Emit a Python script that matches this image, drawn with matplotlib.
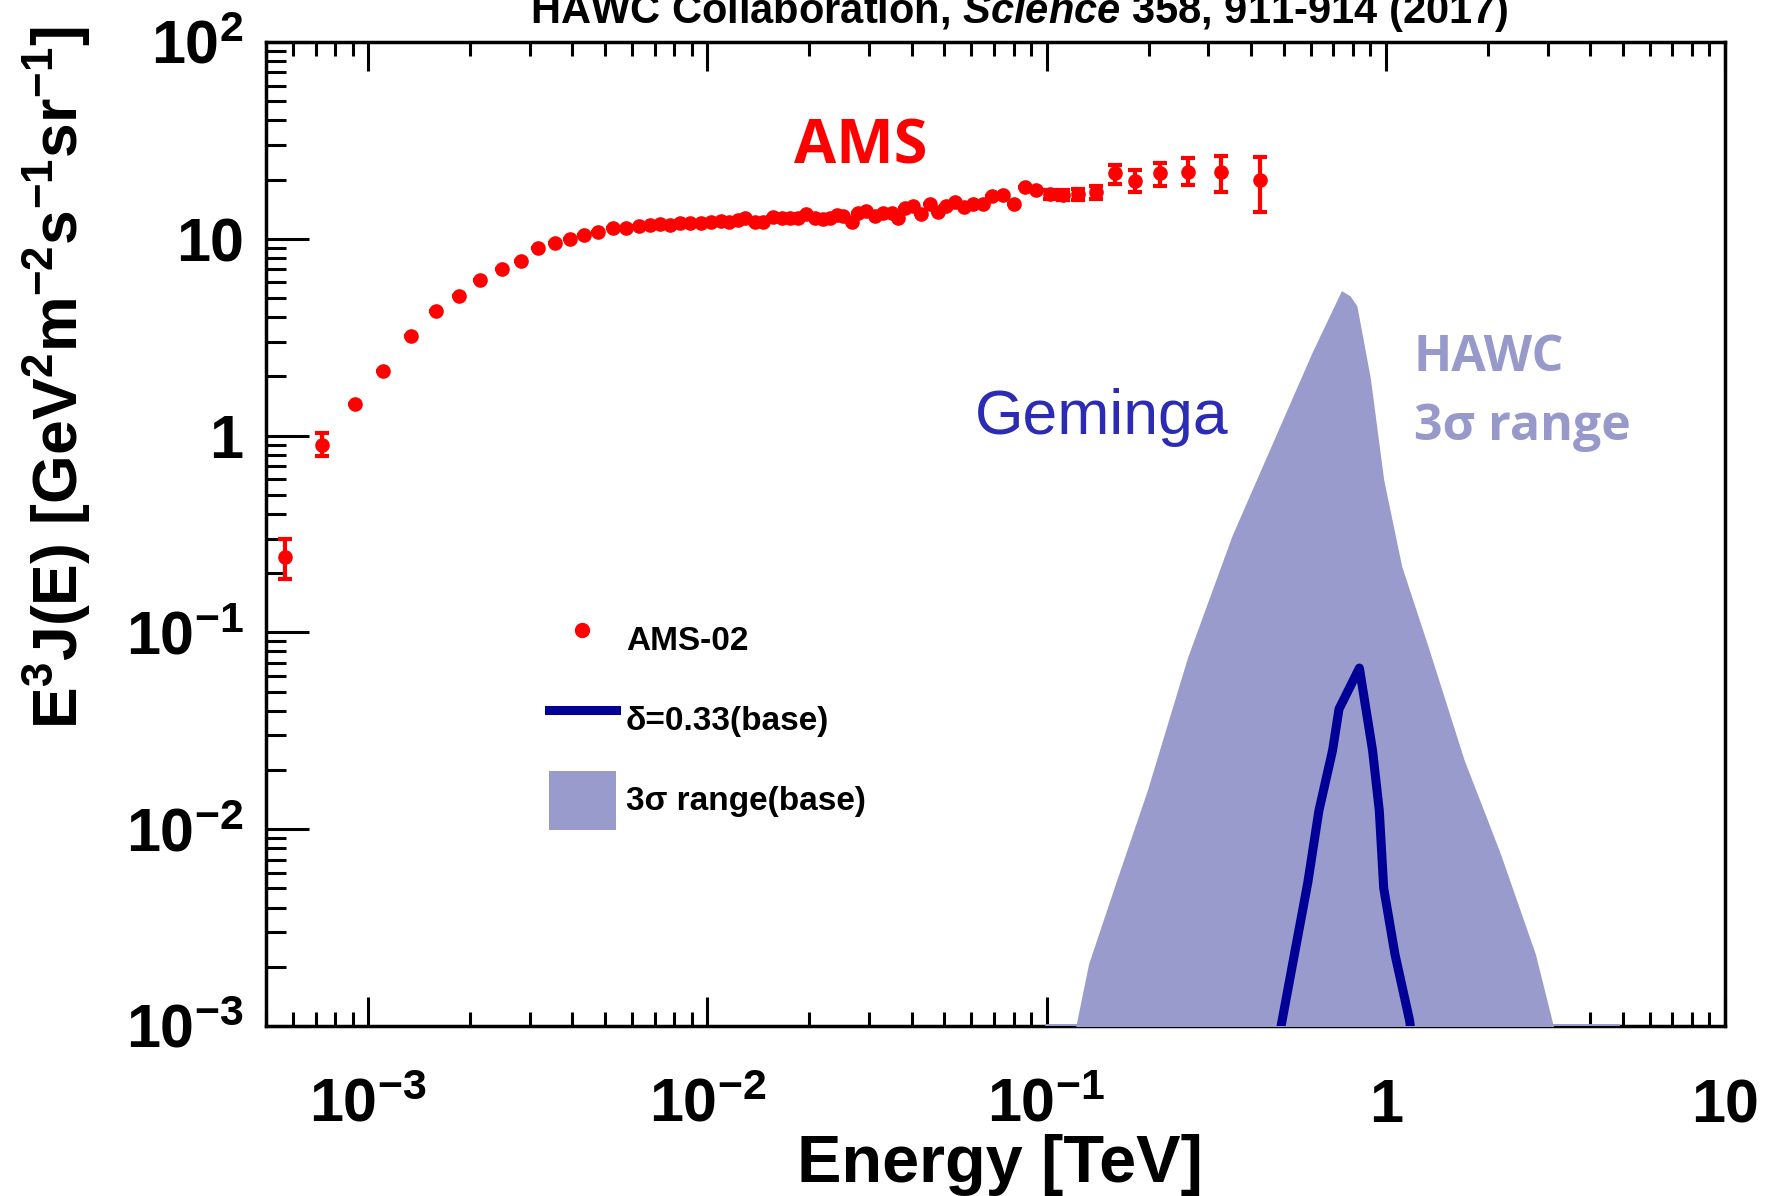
import matplotlib
matplotlib.use('Agg')
import matplotlib.pyplot as plt
from matplotlib.lines import Line2D
from matplotlib.ticker import LogLocator, NullFormatter
import numpy as np

plt.rcParams['font.family'] = ['Liberation Sans', 'DejaVu Sans']
plt.rcParams['mathtext.fontset'] = 'custom'
plt.rcParams['mathtext.rm'] = 'Liberation Sans:bold'
plt.rcParams['mathtext.bf'] = 'Liberation Sans:bold'
plt.rcParams['mathtext.it'] = 'Liberation Sans:italic:bold'
plt.rcParams['mathtext.default'] = 'bf'

# AMS-02 e+e- spectrum, E [TeV] vs E^3 J(E)
ams_e = [5.69e-4, 7.33e-4, 9.12e-4, 1.109e-3, 1.337e-3, 1.589e-3, 1.854e-3, 2.143e-3,
         2.477e-3, 2.825e-3, 3.177e-3, 3.548e-3, 3.936e-3, 4.325e-3, 4.764e-3, 5.260e-3,
         5.754e-3, 6.281e-3, 6.761e-3, 7.244e-3, 7.762e-3, 8.318e-3, 8.913e-3, 9.550e-3,
         1.023e-2, 1.096e-2, 1.161e-2, 1.230e-2, 1.291e-2, 1.380e-2, 1.462e-2, 1.563e-2,
         1.656e-2, 1.750e-2, 1.854e-2, 1.959e-2, 2.075e-2, 2.193e-2, 2.296e-2, 2.404e-2,
         2.512e-2, 2.661e-2, 2.786e-2, 2.944e-2, 3.119e-2, 3.296e-2, 3.491e-2, 3.656e-2,
         3.819e-2, 4.046e-2, 4.276e-2, 4.529e-2, 4.786e-2, 5.070e-2, 5.370e-2, 5.702e-2,
         6.081e-2, 6.501e-2, 6.887e-2, 7.447e-2, 7.998e-2, 8.630e-2, 9.333e-2,
         0.1023, 0.1119, 0.1239, 0.1396, 0.1589, 0.1828, 0.2158, 0.2612, 0.3258, 0.4256]
ams_f = [0.243, 0.90, 1.44, 2.13, 3.21, 4.28, 5.14, 6.18,
         7.0, 7.71, 8.98, 9.53, 9.94, 10.45, 10.8, 11.3,
         11.3, 11.6, 11.8, 11.9, 11.8, 12.0, 12.1, 12.0,
         12.2, 12.3, 12.2, 12.4, 12.7, 12.2, 12.2, 12.9,
         12.8, 12.7, 12.7, 13.3, 12.7, 12.6, 12.8, 13.2,
         13.0, 12.2, 13.5, 13.9, 13.0, 13.6, 13.5, 12.7,
         14.3, 14.6, 13.3, 15.1, 13.7, 14.7, 15.3, 14.5,
         15.1, 15.1, 16.5, 16.7, 15.1, 18.4, 17.6,
         16.9, 16.7, 16.9, 17.2, 21.5, 19.7, 21.5, 21.9, 21.8, 19.9]
ams_err_lo = [0.056, 0.11] + [0.0] * 61 + [0.9, 1.0, 1.1, 1.3, 2.6, 2.4, 3.0, 3.1, 4.5, 6.2]
ams_err_hi = [0.057, 0.13] + [0.0] * 61 + [0.9, 1.0, 1.1, 1.3, 2.2, 2.7, 2.9, 3.7, 4.6, 6.2]

# HAWC 3 sigma range (base)
band_e = [0.100, 0.122, 0.133, 0.160, 0.198, 0.260, 0.352, 0.476, 0.607, 0.740, 0.785,
          0.822, 0.900, 0.986, 1.114, 1.337, 1.702, 2.168, 2.761, 3.119, 4.79]
band_hi = [6.3e-4, 1.0e-3, 2.07e-3, 5.35e-3, 1.57e-2, 7.41e-2, 0.310, 1.02, 2.66, 5.45, 5.13,
           4.56, 1.97, 0.597, 0.217, 8.34e-2, 2.25e-2, 7.66e-3, 2.32e-3, 1.0e-3, 5.0e-4]
band_lo = [1e-4] * len(band_e)

# Geminga, delta = 0.33 (base)
gem_e = [0.479, 0.538, 0.589, 0.635, 0.697, 0.728, 0.836, 0.914, 0.957, 0.986, 1.064, 1.175, 1.202]
gem_f = [7.9e-4, 2.32e-3, 5.35e-3, 1.24e-2, 2.52e-2, 4.08e-2, 6.59e-2, 2.52e-2, 1.24e-2,
         5.02e-3, 2.32e-3, 1.07e-3, 7.9e-4]

x_ticks = [1e-3, 1e-2, 1e-1, 1, 10]
x_ticklabels = [r'$10^{-3}$', r'$10^{-2}$', r'$10^{-1}$', r'$1$', r'$10$']
y_ticks = [1e-3, 1e-2, 1e-1, 1, 10, 100]
y_ticklabels = [r'$10^{-3}$', r'$10^{-2}$', r'$10^{-1}$', r'$1$', r'$10$', r'$10^{2}$']
x_range = (5e-4, 10)
y_range = (1e-3, 1e2)

band_color = '#989BCB'
line_color = '#000096'

W, H = 1777, 1196
fig = plt.figure(figsize=(W / 100, H / 100), dpi=100)
ax = fig.add_axes([266 / W, 1 - 1026 / H, (1725 - 266) / W, (1026 - 42) / H])
ax.set_xscale('log')
ax.set_yscale('log')

band = ax.fill_between(band_e, band_lo, band_hi, color=band_color, lw=0, zorder=3)
ax.plot([band_e[0], band_e[-1]], [y_range[0], y_range[0]], color=band_color, lw=3.5, zorder=3.1)
gem, = ax.plot(gem_e, gem_f, color=line_color, lw=6.5, zorder=4)
ax.errorbar(ams_e, ams_f, yerr=[ams_err_lo, ams_err_hi], fmt='o', color='red', ms=9.5,
            elinewidth=3, capsize=5, capthick=3, zorder=5)

ax.set_xlim(*x_range)
ax.set_ylim(*y_range)
ax.set_xticks(x_ticks)
ax.set_xticklabels(x_ticklabels)
ax.set_yticks(y_ticks)
ax.set_yticklabels(y_ticklabels)
ax.xaxis.set_minor_locator(LogLocator(base=10, subs=np.arange(2, 10), numticks=20))
ax.yaxis.set_minor_locator(LogLocator(base=10, subs=np.arange(2, 10), numticks=20))
ax.xaxis.set_minor_formatter(NullFormatter())
ax.yaxis.set_minor_formatter(NullFormatter())

ax.tick_params(axis='x', which='major', direction='in', top=True, bottom=True,
               length=21, width=2.2, pad=69, labelsize=44)
ax.tick_params(axis='x', which='minor', direction='in', top=True, bottom=True,
               length=10, width=2.2)
ax.tick_params(axis='y', which='major', direction='in', left=True, right=False,
               length=31, width=2.2, pad=16, labelsize=44)
ax.tick_params(axis='y', which='minor', direction='in', left=True, right=False,
               length=14.5, width=2.2)
for lab in ax.get_xticklabels():
    lab.set_va('baseline')
for sp in ax.spines.values():
    sp.set_linewidth(2.5)

# legend
ams_handle = Line2D([], [], ls='none', marker='o', color='red', ms=10)
ax.legend([ams_handle, gem, band], ['AMS-02', 'δ=0.33(base)', '3σ range(base)'],
          loc='upper left', bbox_to_anchor=(0.194, 0.423), frameon=False,
          prop={'family': 'Liberation Sans', 'weight': 'bold', 'size': 24},
          borderpad=0, borderaxespad=0, handlelength=2.0, handleheight=2.35,
          handletextpad=0.3, labelspacing=0.64)

# annotations
fig.text(861 / W, 1 - 164 / H, 'AMS', color='red', fontsize=44, fontweight='bold',
         family='Open Sans', ha='center', va='baseline')
fig.text(975 / W, 1 - 434 / H, 'Geminga', color='#2B2BB5', fontsize=45,
         family='Liberation Sans', ha='left', va='baseline')
fig.text(1414 / W, 1 - 371 / H, 'HAWC', color='#9799CB', fontsize=36, fontweight='bold',
         family='Open Sans', ha='left', va='baseline')
fig.text(1414 / W, 1 - 440 / H, '3σ range', color='#9799CB', fontsize=36, fontweight='bold',
         family='Open Sans', ha='left', va='baseline')

fig.text(1019 / W, 1 - 23 / H, r'HAWC Collaboration, $\mathit{Science}$ 358, 911-914 (2017)',
         fontsize=30, fontweight='bold', ha='center', va='baseline')
fig.text(1000 / W, 1 - 1182 / H, 'Energy [TeV]', fontsize=48, fontweight='bold',
         ha='center', va='baseline')
fig.text(57 / W, 1 - 378 / H, r'$E^{3}J(E)\ [GeV^{2}m^{-2}s^{-1}sr^{-1}]$', fontsize=45,
         rotation=90, ha='center', va='center')

fig.savefig('out.png', dpi=100)
